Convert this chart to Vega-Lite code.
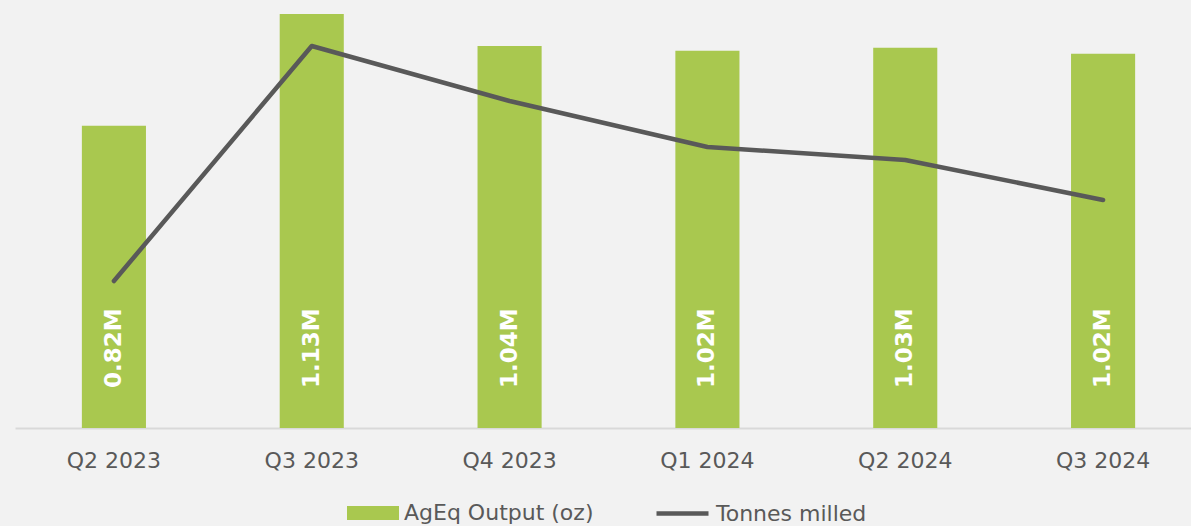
{
  "$schema": "https://vega.github.io/schema/vega-lite/v6.json",
  "width": 1176,
  "height": 428,
  "autosize": {"type": "none"},
  "padding": {"left": 15, "top": 0, "right": 0, "bottom": 98},
  "background": "#f2f2f2",
  "config": {"view": {"stroke": null}, "font": "DejaVu Sans"},
  "data": {
    "values": [
      {"quarter": "Q2 2023", "output": 0.821, "label": "0.82M", "tonnes": 147000},
      {"quarter": "Q3 2023", "output": 1.125, "label": "1.13M", "tonnes": 382000},
      {"quarter": "Q4 2023", "output": 1.038, "label": "1.04M", "tonnes": 327000},
      {"quarter": "Q1 2024", "output": 1.025, "label": "1.02M", "tonnes": 281000},
      {"quarter": "Q2 2024", "output": 1.033, "label": "1.03M", "tonnes": 268000},
      {"quarter": "Q3 2024", "output": 1.017, "label": "1.02M", "tonnes": 228000}
    ]
  },
  "encoding": {
    "x": {
      "field": "quarter",
      "type": "nominal",
      "sort": null,
      "scale": {"range": [0, 1187], "paddingInner": 0.676, "paddingOuter": 0.338},
      "axis": {
        "title": null,
        "labelAngle": 0,
        "labelFontSize": 22,
        "labelColor": "#595959",
        "labelPadding": 22,
        "ticks": false,
        "domainColor": "#d9d9d9",
        "domainWidth": 2,
        "grid": false
      }
    }
  },
  "layer": [
    {
      "mark": {"type": "bar"},
      "encoding": {
        "y": {"field": "output", "type": "quantitative", "scale": {"domain": [0, 1.163]}, "axis": null},
        "fill": {
          "datum": "AgEq Output (oz)",
          "type": "nominal",
          "scale": {"range": ["#a9c84f"]},
          "legend": {
            "orient": "none",
            "legendX": 332,
            "legendY": 487,
            "title": null,
            "symbolType": "M-1,-0.27L1,-0.27L1,0.27L-1,0.27Z",
            "symbolSize": 2704,
            "symbolStrokeWidth": 0,
            "labelFontSize": 22,
            "labelColor": "#595959",
            "labelOffset": 5,
            "labelLimit": 400
          }
        }
      }
    },
    {
      "mark": {"type": "text", "angle": 270, "align": "left", "baseline": "middle", "fontSize": 23, "fontWeight": "bold", "color": "#ffffff"},
      "encoding": {
        "y": {"datum": 0.109, "type": "quantitative", "scale": {"domain": [0, 1.163]}, "axis": null},
        "text": {"field": "label"}
      }
    },
    {
      "mark": {"type": "line", "strokeWidth": 4.5, "strokeCap": "round", "strokeJoin": "round"},
      "encoding": {
        "y": {"field": "tonnes", "type": "quantitative", "scale": {"domain": [0, 428000]}, "axis": null},
        "stroke": {
          "datum": "Tonnes milled",
          "type": "nominal",
          "scale": {"range": ["#595959"]},
          "legend": {
            "orient": "none",
            "legendX": 639,
            "legendY": 485,
            "title": null,
            "symbolType": "stroke",
            "symbolSize": 2704,
            "symbolStrokeWidth": 4.5,
            "labelFontSize": 22,
            "labelColor": "#595959",
            "labelOffset": 5,
            "labelLimit": 400
          }
        }
      }
    }
  ],
  "resolve": {"scale": {"y": "independent"}}
}
